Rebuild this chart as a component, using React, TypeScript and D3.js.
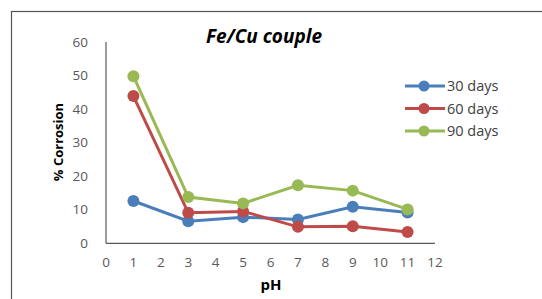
import { useEffect, useRef } from 'react';
import * as d3 from 'd3';

const phValues = [1, 3, 5, 7, 9, 11];
const days30 = [12.6, 6.6, 7.8, 7.1, 10.9, 9.2];
const days60 = [43.9, 9.1, 9.5, 4.9, 5.1, 3.4];
const days90 = [49.8, 13.8, 11.9, 17.3, 15.7, 10.1];
const seriesNames = ['30 days', '60 days', '90 days'];
const seriesColors = ['#4a7ebb', '#be4b48', '#98b954'];
const xTicks = [0, 1, 2, 3, 4, 5, 6, 7, 8, 9, 10, 11, 12];
const yTicks = [0, 10, 20, 30, 40, 50, 60];

const App = () => {
  const svgRef = useRef<SVGSVGElement>(null);

  useEffect(() => {
    const width = 542;
    const height = 299;
    const font = "'Open Sans', 'Liberation Sans', sans-serif";

    const svg = d3.select(svgRef.current);
    svg.selectAll('*').remove();
    svg.attr('width', width).attr('height', height);

    svg.append('rect')
      .attr('width', width).attr('height', height).attr('fill', 'white');

    // outer frame
    svg.append('rect')
      .attr('x', 11.5).attr('y', 11.5)
      .attr('width', 560).attr('height', 320)
      .attr('fill', 'none').attr('stroke', '#555').attr('stroke-width', 1.2);

    const x = d3.scaleLinear().domain([0, 12]).range([106, 435]);
    const y = d3.scaleLinear().domain([0, 60]).range([243.3, 42]);

    // axis lines
    svg.append('line')
      .attr('x1', x(0)).attr('x2', x(0)).attr('y1', y(60)).attr('y2', y(0))
      .attr('stroke', '#595959').attr('stroke-width', 1.2);
    svg.append('line')
      .attr('x1', x(0)).attr('x2', x(12)).attr('y1', y(0)).attr('y2', y(0))
      .attr('stroke', '#595959').attr('stroke-width', 1.2);

    // tick labels
    svg.append('g').selectAll('text').data(yTicks).enter().append('text')
      .attr('x', 88).attr('y', d => y(d)).attr('dy', '0.35em')
      .attr('text-anchor', 'end')
      .style('font-family', font).style('font-size', '13.5px').style('fill', '#595959')
      .text(d => d);
    svg.append('g').selectAll('text').data(xTicks).enter().append('text')
      .attr('x', d => x(d)).attr('y', 262).attr('dy', '0.35em')
      .attr('text-anchor', 'middle')
      .style('font-family', font).style('font-size', '13.5px').style('fill', '#595959')
      .text(d => d);

    // axis titles
    svg.append('text')
      .attr('x', 271).attr('y', 285).attr('dy', '0.35em')
      .attr('text-anchor', 'middle')
      .style('font-family', font).style('font-size', '15px').style('font-weight', 'bold')
      .text('pH');
    svg.append('text')
      .attr('transform', 'translate(58,142) rotate(-90)')
      .attr('dy', '0.35em')
      .attr('text-anchor', 'middle')
      .style('font-family', font).style('font-size', '13px').style('font-weight', 'bold')
      .text('% Corrosion');

    // title
    svg.append('text')
      .attr('x', 264).attr('y', 36).attr('dy', '0.35em')
      .attr('text-anchor', 'middle')
      .style('font-family', font).style('font-size', '19px')
      .style('font-weight', 'bold').style('font-style', 'italic')
      .text('Fe/Cu couple');

    const allSeries = [days30, days60, days90];
    const line = d3.line<number>()
      .x((_, i) => x(phValues[i]))
      .y(d => y(d));

    allSeries.forEach((values, k) => {
      const g = svg.append('g');
      g.append('path')
        .attr('d', line(values))
        .attr('fill', 'none')
        .attr('stroke', seriesColors[k])
        .attr('stroke-width', 3);
      g.selectAll('circle').data(values).enter().append('circle')
        .attr('cx', (_, i) => x(phValues[i]))
        .attr('cy', d => y(d))
        .attr('r', 6)
        .attr('fill', seriesColors[k]);
    });

    // legend
    const legend = svg.append('g');
    seriesNames.forEach((name, k) => {
      const ly = 86 + k * 22.5;
      legend.append('line')
        .attr('x1', 405).attr('x2', 445).attr('y1', ly).attr('y2', ly)
        .attr('stroke', seriesColors[k]).attr('stroke-width', 3);
      legend.append('circle')
        .attr('cx', 424).attr('cy', ly).attr('r', 5.5)
        .attr('fill', seriesColors[k]);
      legend.append('text')
        .attr('x', 447).attr('y', ly).attr('dy', '0.35em')
        .style('font-family', font).style('font-size', '14.5px').style('fill', '#404040')
        .text(name);
    });
  }, []);

  return <svg ref={svgRef} style={{ position: 'absolute', left: 0, top: 0 }}></svg>;
};

export default App;
